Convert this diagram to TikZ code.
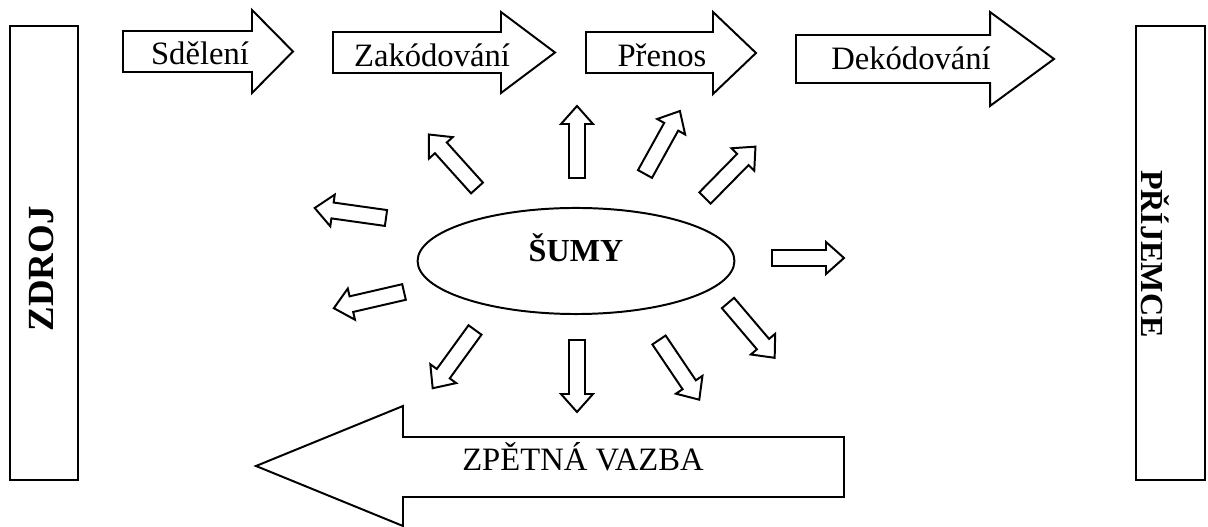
\documentclass[tikz,border=0pt]{standalone}
\usepackage{fontspec}
\setmainfont{Liberation Serif}
\usepackage{tikz}
\usetikzlibrary{shapes.geometric}

\begin{document}
\begin{tikzpicture}[x=0.38pt, y=-0.38pt, line width=0.75pt,
    txt/.style={anchor=base, inner sep=0pt, font=\fontsize{12.4}{14}\selectfont},
    bold/.style={inner sep=0pt, font=\fontsize{12.2}{14}\selectfont\bfseries}]

      \useasboundingbox (0,0) rectangle (1208,527);

      % zdroj a prijemce
      \draw (10,26) rectangle (78,480);
      \node [bold, rotate=90, font=\fontsize{14}{16}\selectfont\bfseries] (zdroj) at (41,269) {ZDROJ};
      \draw (1136,26) rectangle (1205,480);
      \node [bold, rotate=-90] (prijemce) at (1155,254) {PŘÍJEMCE};

      % sipky nahore
      \draw (123,31) -- (252,31) -- (252,10) -- (293,51.5) -- (252,93) -- (252,72) -- (123,72) -- cycle;
      \node [txt] (sdeleni) at (200,65) {Sdělení};
      \draw (333,32) -- (501,32) -- (501,12) -- (555,52.5) -- (501,93) -- (501,73) -- (333,73) -- cycle;
      \node [txt] (zakodovani) at (432,67) {Zakódování};
      \draw (586,32) -- (713,32) -- (713,12) -- (756,53) -- (713,94) -- (713,73) -- (586,73) -- cycle;
      \node [txt] (prenos) at (662,67) {Přenos};
      \draw (796,35) -- (990,35) -- (990,12) -- (1054,59) -- (990,106) -- (990,83) -- (796,83) -- cycle;
      \node [txt] (dekodovani) at (911,70) {Dekódování};

      % zpetna vazba
      \draw (844,437) -- (403,437) -- (403,406) -- (256,466) -- (403,526) -- (403,497) -- (844,497) -- cycle;
      \node [txt] (zpetna) at (583,471) {ZPĚTNÁ VAZBA};

      % sumy
      \node [ellipse, draw, minimum width=120.4pt, minimum height=40.3pt] (sumy) at (576,261) {};
      \node [bold, anchor=base] (sumytext) at (576,262) {ŠUMY};
      \foreach \px/\py/\ang in {477/188/132, 386/218/172, 577/178/90, 645/174/61, 705/198/45.5,
          772/258/0, 728/303/-49.6, 659/340/-56, 577/340/-90, 475/330/-126, 404/292/193}
        \draw [shift={(\px,\py)}, rotate=\ang] (0,-8) -- (54,-8) -- (54,-16) -- (72,0) -- (54,16) -- (54,8) -- (0,8) -- cycle;
\end{tikzpicture}
\end{document}
